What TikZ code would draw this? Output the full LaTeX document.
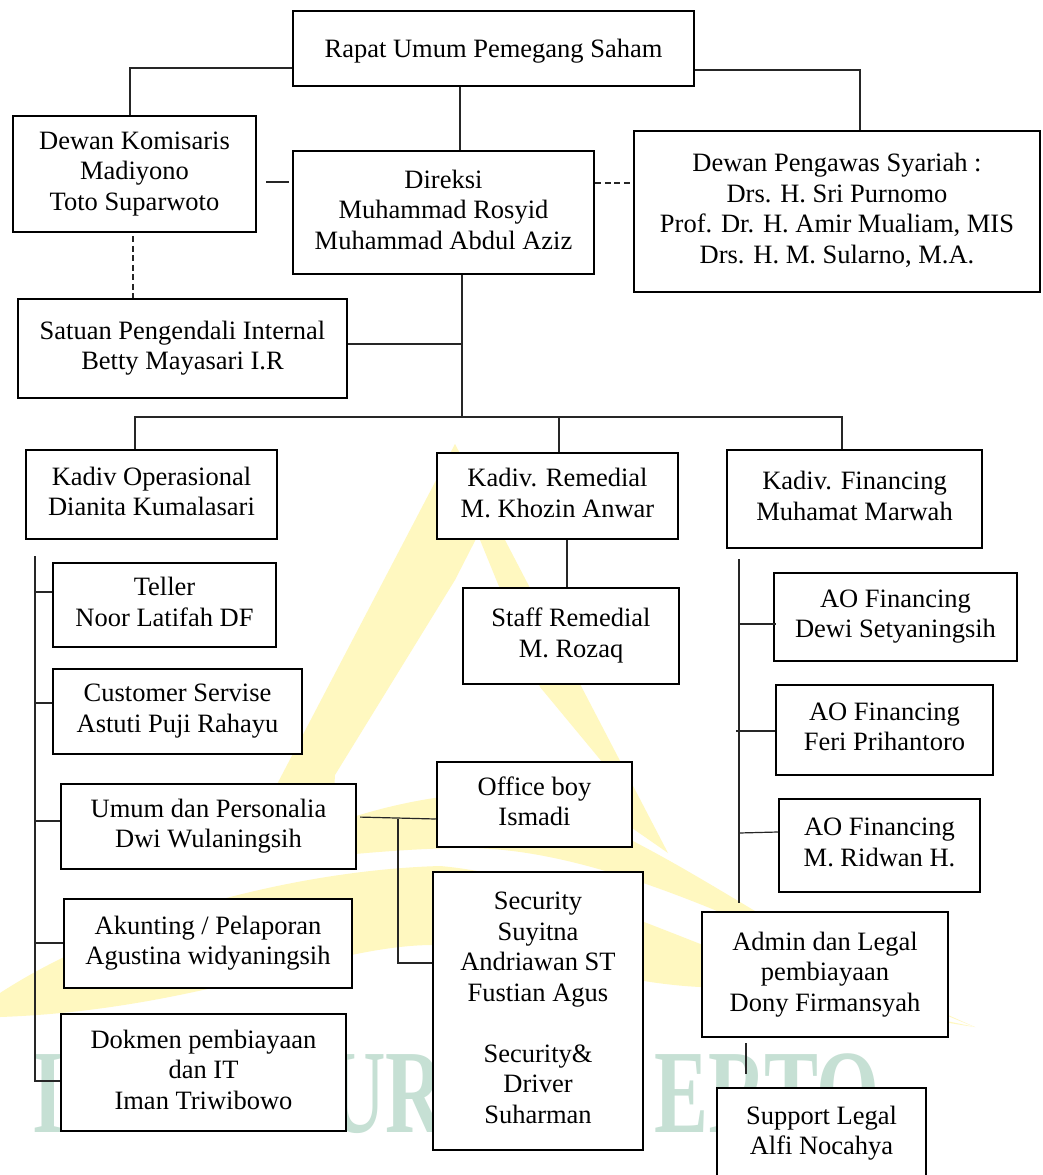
\documentclass[tikz,border=0pt]{standalone}
\usepackage{fontspec}
\setmainfont{Liberation Serif}
\newcommand{\orgstrut}{\rule[-6.25pt]{0pt}{30.5pt}}
\newcommand{\boxfont}{\fontsize{26.5pt}{30.5pt}\selectfont}
\newcommand{\wmfont}{\fontsize{119pt}{119pt}\selectfont\bfseries}
\definecolor{wmyellow}{RGB}{255,248,192}
\definecolor{wmgreen}{RGB}{198,224,212}
\begin{document}
\begin{tikzpicture}[x=1pt,y=-1pt,
  box/.style={draw=black, line width=2.5pt, fill=white, inner sep=0pt, align=center,
    font=\boxfont, execute at begin node=\orgstrut, execute at end node=\orgstrut},
  conn/.style={line width=1.2pt, draw=black!85},
  dashconn/.style={conn, dash pattern=on 6pt off 3.5pt},
  wm/.style={inner sep=0pt, text=wmgreen, font=\wmfont}]
\useasboundingbox (0,0) rectangle (1043,1175);
\clip (0,0) rectangle (1043,1175);
\fill[white] (0,0) rectangle (1043,1175);

% watermark (logo and the visible letters of its lettering)
\fill[wmyellow] (455,444) -- (668,853) -- (632,828) -- (603,763) -- (540,687) -- (478,535)
  -- (455,580) -- (335,775) -- (330,855) -- (240,855) -- cycle;
\fill[wmyellow] (260,860) .. controls (300,830) and (400,795) .. (490,793)
  .. controls (620,800) and (800,960) .. (975,1027)
  .. controls (800,950) and (620,850) .. (470,848)
  .. controls (380,848) and (300,862) .. (260,860) -- cycle;
\fill[wmyellow] (0,993) .. controls (120,915) and (300,870) .. (440,866)
  .. controls (600,880) and (780,1000) .. (975,1027)
  .. controls (850,1000) and (760,990) .. (700,987)
  .. controls (600,982) and (520,945) .. (433,945)
  .. controls (330,945) and (200,1010) .. (0,1017) -- cycle;
\node[wm, anchor=base west] (wmA) at (32,1132) {\scalebox{0.68}[1]{I}};
\node[wm, anchor=base west] (wmB) at (327,1132) {\scalebox{0.68}[1]{UR}};
\node[wm, anchor=base east] (wmC) at (880,1132) {\scalebox{0.68}[1]{ERTO}};

% boxes
\node[box, minimum width=401pt, minimum height=75pt] (rups) at (493.5,48.5) {Rapat Umum Pemegang Saham};
\node[box, minimum width=243pt, minimum height=116pt] (dk) at (134.5,174) {Dewan Komisaris\\Madiyono\\Toto Suparwoto};
\node[box, minimum width=301pt, minimum height=123pt] (dir) at (443.5,212.5) {Direksi\\Muhammad Rosyid\\Muhammad Abdul Aziz};
\node[box, minimum width=406pt, minimum height=161pt] (dps) at (837,211.5) {Dewan Pengawas Syariah :\\Drs. H. Sri Purnomo\\Prof. Dr. H. Amir Mualiam, MIS\\Drs. H. M. Sularno, M.A.};
\node[box, minimum width=329pt, minimum height=99pt] (spi) at (182.5,348.5) {Satuan Pengendali Internal\\Betty Mayasari I.R};
\node[box, minimum width=251pt, minimum height=89pt] (kops) at (151.5,494.5) {Kadiv Operasional\\Dianita Kumalasari};
\node[box, minimum width=241pt, minimum height=86pt] (krem) at (557.5,496) {Kadiv. Remedial\\M. Khozin Anwar};
\node[box, minimum width=255pt, minimum height=98pt] (kfin) at (854.5,499) {Kadiv. Financing\\Muhamat Marwah};
\node[box, minimum width=216pt, minimum height=96pt] (staff) at (571,636) {Staff Remedial\\M. Rozaq};
\node[box, minimum width=223pt, minimum height=84pt] (teller) at (164.5,605) {Teller\\Noor Latifah DF};
\node[box, minimum width=249pt, minimum height=85pt] (cs) at (177.5,711.5) {Customer Servise\\Astuti Puji Rahayu};
\node[box, minimum width=295pt, minimum height=85pt] (umum) at (208.5,826.5) {Umum dan Personalia\\Dwi Wulaningsih};
\node[box, minimum width=288pt, minimum height=89pt] (akun) at (208,943.5) {Akunting / Pelaporan\\Agustina widyaningsih};
\node[box, minimum width=285pt, minimum height=117pt] (dok) at (203.5,1072.5) {Dokmen pembiayaan\\dan IT\\Iman Triwibowo};
\node[box, minimum width=195pt, minimum height=85pt] (ob) at (534.5,804.5) {Office boy\\Ismadi};
\node[box, minimum width=210pt, minimum height=278pt] (sec) at (538,1011) {Security\\Suyitna\\Andriawan ST\\Fustian Agus\\\strut\\Security\&\\Driver\\Suharman};
\node[box, minimum width=243pt, minimum height=88pt] (ao1) at (895.5,617) {AO Financing\\Dewi Setyaningsih};
\node[box, minimum width=217pt, minimum height=90pt] (ao2) at (884.5,730) {AO Financing\\Feri Prihantoro};
\node[box, minimum width=201pt, minimum height=93pt] (ao3) at (879.5,845.5) {AO Financing\\M. Ridwan H.};
\node[box, minimum width=246pt, minimum height=125pt] (adm) at (825,974.5) {Admin dan Legal\\pembiayaan\\Dony Firmansyah};
\node[box, minimum width=209pt, minimum height=91pt] (sup) at (821.5,1133.5) {Support Legal\\Alfi Nocahya};

% connectors, top part
\draw[conn] (rups.west |- 0,68) -| (dk.north -| 130,0);
\draw[conn] (rups.south -| 460,0) -- (dir.north -| 460,0);
\draw[conn] (rups.east |- 0,70) -| (dps.north -| 860,0);
\draw[conn, shorten <=9pt, shorten >=3pt] (dk.east |- 0,182) -- (dir.west |- 0,182);
\draw[dashconn] (dir.east |- 0,183) -- (dps.west |- 0,183);
\draw[dashconn, shorten <=3pt] (dk.south -| 133,0) -- (spi.north -| 133,0);
\coordinate (busmid) at (462,417);
\draw[conn] (dir.south -| busmid) -- (busmid);
\draw[conn] (spi.east |- 0,344) -- (busmid |- 0,344);
\draw[conn] (kops.north -| 135,0) |- (842,417) -- (kfin.north -| 842,0);
\draw[conn] (krem.north -| 559,0) -- (559,417);
\draw[conn] (krem.south -| 567,0) -- (staff.north -| 567,0);

% operasional bus
\coordinate (opstop) at (35,556);
\draw[conn] (opstop) |- (dok.west |- 0,1081);
\draw[conn] (opstop |- 0,592) -- (teller.west |- 0,592);
\draw[conn] (opstop |- 0,703) -- (cs.west |- 0,703);
\draw[conn] (opstop |- 0,821) -- (umum.west |- 0,821);
\draw[conn] (opstop |- 0,943) -- (akun.west |- 0,943);

% umum to office boy and security
\draw[conn, shorten <=3pt] (umum.east |- 0,817) -- (ob.west |- 0,819);
\draw[conn] (398,819) |- (sec.west |- 0,963);

% financing bus
\coordinate (fintop) at (739,559);
\coordinate (finbot) at (739,903);
\draw[conn] (fintop) -- (finbot);
\draw[conn] (fintop |- 0,624) -- ([xshift=3pt]ao1.west |- 0,624);
\draw[conn] (736,731) -- (ao2.west |- 0,731);
\draw[conn] (fintop |- 0,833) -- (ao3.west |- 0,832);
\draw[conn, shorten <=5pt, shorten >=13pt] (adm.south -| 746,0) -- (sup.north -| 746,0);
\end{tikzpicture}
\end{document}
